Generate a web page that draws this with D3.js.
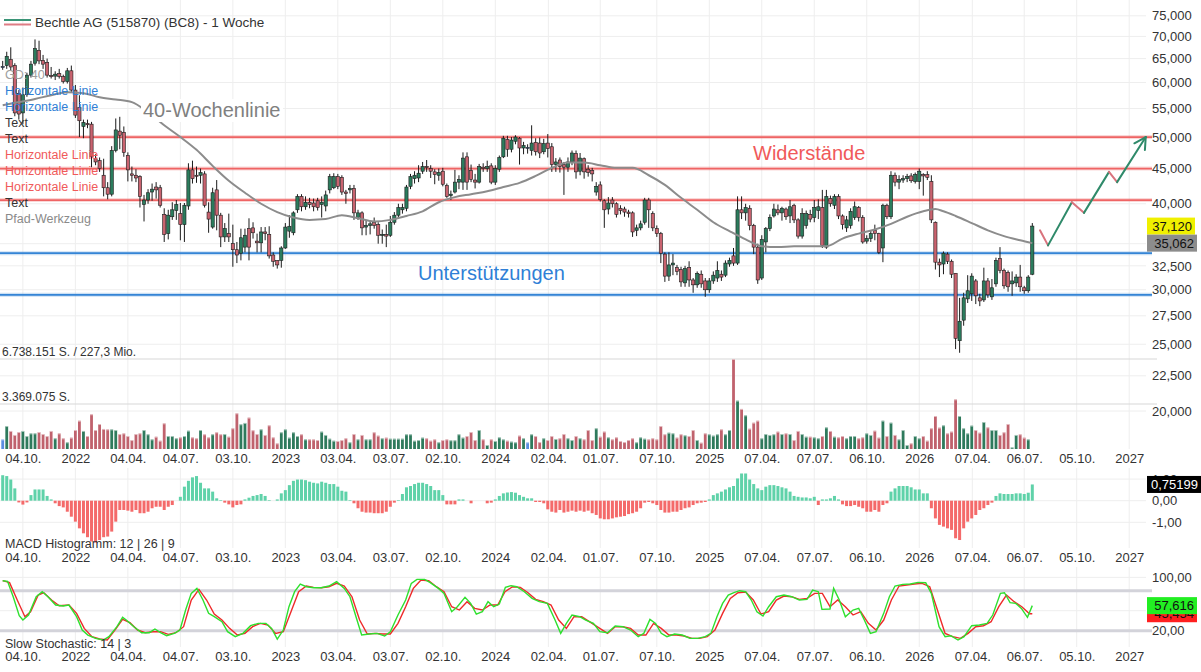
<!DOCTYPE html>
<html>
<head>
<meta charset="utf-8">
<script src="https://cdn.jsdelivr.net/npm/d3@7"></script>
<style>
body { margin: 0; background: #fff; }
svg { display: block; font-family: "Liberation Sans", Arial, sans-serif; }
</style>
</head>
<body>
<svg id="chart" width="1201" height="672"></svg>
<script>
// ---- data (weekly, first week 30.08.2021) ----
var weekStart = "2021-08-30";
var title = "Bechtle AG (515870) (BC8) - 1 Woche";

// [open, high, low, close]
var candles = [
[63.3,64.5,62.6,63.3],[63.5,66.5,62.8,65.5],[64.8,67.5,62.4,63.2],[63.5,64.0,53.6,54.2],[57.8,58.5,53.0,54.0],[54.2,59.0,52.2,57.6],[57.6,62.0,57.2,61.5],[61.5,64.5,61.0,63.8],[64.0,69.3,63.5,67.2],[66.8,69.0,63.8,64.5],
[64.6,65.8,62.8,63.8],[64.2,65.0,61.0,61.5],[61.4,63.2,60.8,61.2],[61.3,62.3,60.5,61.7],[61.8,62.8,60.8,61.2],[61.2,61.6,59.8,60.2],[60.2,63.0,59.8,62.4],[62.4,63.5,58.0,58.5],[58.5,59.5,53.3,53.8],[55.2,57.5,50.0,52.8],
[51.8,53.0,49.8,52.5],[52.3,53.0,51.5,52.1],[52.2,52.6,45.2,46.8],[46.5,47.2,45.5,46.0],[46.2,46.7,44.5,45.0],[44.0,46.5,41.0,42.2],[42.2,43.0,40.6,41.3],[41.3,48.5,41.0,47.8],[47.8,53.2,47.5,51.2],[51.0,53.5,48.0,50.3],
[50.8,51.8,46.8,47.5],[47.0,47.5,43.1,44.8],[44.2,45.3,43.1,44.0],[44.0,44.9,43.0,43.6],[43.8,44.0,39.5,41.0],[39.9,41.2,37.7,40.5],[40.5,42.0,40.0,41.5],[41.6,42.8,40.4,42.0],[42.3,43.0,40.7,41.9],[42.2,42.6,39.5,39.8],
[38.6,39.4,35.2,36.1],[36.2,39.2,35.5,38.5],[38.3,40.2,37.9,39.2],[39.1,40.5,37.9,39.9],[38.7,40.1,35.4,37.3],[37.3,40.1,35.2,39.8],[39.7,45.8,39.2,44.8],[44.8,46.2,42.8,43.5],[44.0,45.3,42.9,43.9],[44.0,45.0,42.8,44.4],
[44.2,44.6,39.5,39.8],[38.9,40.2,36.3,38.0],[37.0,42.2,36.8,41.5],[41.9,43.3,36.6,38.5],[38.5,38.8,34.6,35.8],[35.8,37.5,35.2,36.8],[36.2,38.7,35.2,35.8],[35.0,37.3,32.4,34.3],[34.3,35.2,32.8,33.7],[33.9,36.8,33.1,35.7],
[34.6,36.8,34.0,36.0],[36.8,38.1,33.1,34.6],[36.9,37.6,35.6,36.3],[35.3,36.2,34.0,35.1],[35.1,37.0,34.0,36.4],[36.4,37.0,35.4,36.2],[36.1,37.1,33.3,33.6],[33.7,34.0,32.4,33.0],[33.1,33.1,32.2,32.6],[33.1,34.7,32.3,34.5],
[34.5,37.5,34.4,37.0],[36.5,38.5,35.7,37.1],[36.3,39.0,36.0,38.8],[39.2,41.3,38.8,41.0],[41.0,41.3,39.0,39.6],[39.6,41.0,39.2,40.2],[40.2,40.8,39.4,39.9],[40.1,40.7,39.0,39.6],[40.4,40.8,39.1,39.5],[39.9,41.0,38.2,40.2],
[39.7,41.8,39.0,41.2],[41.9,44.2,41.4,43.8],[42.2,44.3,42.0,43.8],[43.8,44.2,42.0,42.4],[43.7,44.0,41.2,41.6],[41.6,41.9,40.0,41.4],[41.9,42.6,41.4,42.1],[42.1,42.6,37.9,38.8],[38.2,39.2,37.9,38.8],[38.8,39.0,36.0,36.9],
[37.0,37.8,36.0,37.2],[37.2,37.8,36.1,37.4],[37.6,38.2,36.8,37.2],[37.3,37.6,35.0,36.0],[36.0,36.7,35.0,36.1],[36.1,37.3,34.6,35.9],[36.0,38.4,35.8,37.6],[37.6,38.9,37.3,38.5],[38.5,40.0,38.2,39.5],[39.2,40.0,38.7,39.5],
[39.4,42.6,39.0,42.3],[42.4,44.2,42.0,43.8],[43.5,44.6,42.8,44.0],[43.6,45.5,43.0,44.3],[44.6,46.0,44.2,45.3],[45.3,46.3,44.5,45.2],[45.0,45.5,43.6,44.6],[44.5,44.9,42.7,44.1],[44.0,45.0,43.2,44.4],[44.6,45.1,42.4,42.7],
[42.5,42.8,40.8,41.0],[41.1,41.8,40.5,41.3],[41.6,44.8,41.4,43.0],[43.0,44.0,42.0,43.4],[43.0,47.5,41.9,46.6],[46.8,47.5,41.9,43.0],[44.7,45.6,43.0,43.4],[43.3,44.2,42.1,43.0],[43.0,45.7,42.8,45.3],[45.2,45.8,44.5,45.0],
[45.0,46.2,44.5,45.3],[45.4,45.8,42.7,43.0],[43.0,45.5,42.6,45.0],[44.9,47.0,44.5,46.7],[46.8,50.2,46.6,49.8],[49.6,50.2,46.8,48.0],[48.0,50.0,47.5,49.5],[49.3,50.3,48.8,50.0],[49.8,50.0,45.6,48.2],[48.2,49.2,47.2,48.6],
[48.3,48.8,47.3,48.3],[47.8,52.0,47.0,49.0],[49.1,49.8,47.0,47.6],[49.0,49.9,46.6,47.4],[47.6,49.7,47.2,48.9],[49.0,50.5,46.7,48.1],[48.4,49.0,44.5,45.6],[45.6,46.6,44.5,46.0],[46.3,46.7,44.4,45.3],[45.6,46.0,41.2,45.2],
[45.2,46.7,44.5,46.0],[46.0,47.8,45.5,47.4],[47.3,47.8,43.5,44.5],[44.6,47.4,44.0,46.6],[46.5,46.7,43.5,44.5],[44.9,45.5,43.8,44.4],[44.7,45.1,43.1,44.2],[41.6,43.0,41.1,42.4],[42.6,43.1,40.3,40.6],[40.4,40.6,36.9,39.2],
[39.3,40.9,38.6,40.1],[40.5,40.9,39.5,40.0],[40.0,40.2,38.2,38.6],[39.4,39.8,38.6,39.1],[39.3,39.6,38.3,38.9],[38.9,39.2,38.2,38.7],[38.8,39.0,35.8,36.4],[36.6,37.3,35.9,36.9],[36.9,37.8,36.6,37.4],[37.6,40.8,37.3,40.5],
[40.5,40.8,36.9,39.2],[38.7,39.0,36.5,36.9],[36.8,37.2,35.8,36.2],[36.2,36.4,32.8,33.9],[33.8,34.0,30.8,31.4],[31.4,34.0,30.9,32.6],[32.6,33.8,31.5,32.8],[32.3,32.6,31.5,31.9],[32.1,32.4,30.3,30.8],[30.7,32.5,30.3,32.2],
[32.3,33.0,30.3,31.0],[31.0,31.2,29.7,30.5],[30.5,31.9,30.2,31.7],[31.6,32.0,30.2,30.6],[30.9,31.2,29.3,30.0],[30.0,31.2,29.7,30.9],[30.9,31.9,30.6,31.5],[31.2,33.0,30.8,32.0],[31.6,32.0,30.9,31.3],[31.5,33.1,31.3,32.8],
[32.7,33.4,32.4,33.1],[33.6,34.5,32.5,32.8],[32.8,41.0,32.6,39.2],[39.2,41.0,38.0,38.8],[38.8,40.0,37.8,39.5],[39.4,39.8,36.6,37.2],[37.2,37.4,33.8,34.6],[34.6,35.0,30.6,31.0],[31.2,36.0,31.0,35.5],[35.2,37.0,34.0,36.8],
[36.8,38.6,36.5,38.2],[38.4,40.0,38.2,39.3],[39.2,39.9,38.5,38.8],[38.8,39.6,37.8,39.4],[39.3,39.5,37.9,38.3],[38.4,40.5,37.5,39.6],[39.8,40.0,37.5,37.9],[37.9,38.1,35.6,35.9],[35.9,39.4,35.6,38.7],[37.2,39.1,36.8,38.7],
[38.6,39.2,37.6,38.0],[38.2,40.5,37.6,39.5],[39.1,40.6,38.0,39.6],[39.5,41.9,34.5,34.8],[34.6,41.9,34.4,41.0],[40.7,41.1,39.6,40.0],[39.8,41.3,39.3,41.0],[41.0,41.3,38.0,38.4],[38.4,38.6,36.7,37.3],[36.9,38.4,36.4,37.9],
[37.2,39.4,36.8,39.0],[38.2,40.3,37.9,39.6],[39.5,39.7,37.7,38.2],[38.2,38.5,35.0,35.2],[35.3,36.0,35.0,35.6],[35.6,36.6,35.2,36.2],[36.6,37.3,35.4,36.2],[36.2,36.3,33.8,34.0],[34.5,40.0,32.9,39.8],[39.8,40.0,38.0,38.3],
[38.3,44.6,38.0,44.0],[44.0,44.4,42.4,43.0],[43.0,44.0,42.0,43.4],[43.3,44.0,42.9,43.5],[43.5,44.2,43.0,43.8],[43.9,44.3,42.9,43.2],[43.1,44.4,42.8,44.1],[43.1,45.0,42.0,44.6],[44.1,44.3,41.1,43.9],[44.1,44.6,43.3,43.7],
[43.1,44.0,37.5,37.9],[37.6,37.7,32.1,32.9],[32.9,33.3,31.3,32.6],[32.7,34.1,31.6,33.9],[33.8,34.0,32.7,33.0],[33.0,33.2,31.2,31.6],[31.7,31.7,24.6,25.5],[25.3,29.2,24.3,27.0],[27.1,29.7,26.6,29.2],[29.1,31.5,28.7,29.9],
[29.6,31.7,28.9,31.4],[30.9,31.1,28.6,29.4],[29.2,29.6,28.4,28.9],[29.0,32.3,28.8,30.9],[30.9,31.2,29.2,29.5],[29.3,31.1,29.0,30.2],[30.6,33.4,30.3,33.1],[33.3,34.6,31.7,32.0],[32.0,32.2,30.1,30.4],[31.8,32.0,29.8,30.3],
[30.6,31.9,29.4,30.9],[30.7,31.6,30.3,31.3],[31.3,32.6,29.8,30.3],[30.2,30.4,29.6,29.9],[29.9,31.5,29.7,31.3],[31.6,37.5,31.5,37.12]
];

// weekly volume, million shares
var volumes = [
0.72,1.72,1.35,1.05,1.27,1.35,0.97,1.17,1.17,1.27,
1.12,0.97,1.35,0.8,1.17,0.8,0.5,0.85,1.42,2.12,
1.35,0.97,2.6,1.42,1.87,1.5,1.47,1.47,1.42,1.12,
1.17,0.97,0.67,1.12,1.17,1.42,1.1,0.72,0.92,0.62,
1.92,0.97,0.97,0.8,0.87,0.97,1.37,0.87,0.8,1.42,
1.1,0.87,1.1,1.25,1.1,1.12,0.92,1.55,2.67,1.85,
1.95,2.35,1.4,1.12,1.47,1.05,1.77,0.87,0.42,1.25,
1.47,0.85,1.25,0.97,1.1,0.72,0.72,0.72,0.67,1.3,
1.05,0.77,0.62,0.6,0.67,0.8,0.5,1.12,0.72,1.05,
0.72,0.72,1.25,1.0,0.8,0.85,0.77,0.77,0.77,0.77,
1.1,1.1,0.62,0.67,0.85,0.8,0.62,0.72,0.5,0.67,
0.72,0.65,0.65,1.1,0.85,0.97,1.27,0.67,1.42,0.72,
0.3,0.72,0.6,0.87,0.72,0.62,0.55,0.5,1.0,0.8,
0.5,1.1,0.97,0.52,0.8,0.67,0.97,0.75,0.8,1.12,
0.8,0.67,0.97,0.8,0.72,1.42,0.67,1.55,0.92,1.3,
0.87,0.72,0.87,0.6,0.52,0.67,0.8,0.5,0.87,0.77,
0.72,0.8,0.72,1.72,1.1,1.22,1.17,0.85,1.1,1.02,
0.97,1.42,0.67,0.47,1.17,1.1,1.0,1.1,1.47,1.1,
1.42,6.738151,3.62,3.0,2.52,1.52,1.97,2.12,0.8,1.12,
1.05,1.1,1.3,1.12,1.17,1.12,0.67,1.35,1.12,0.92,
0.92,0.87,0.8,0.97,1.62,1.35,0.92,0.87,0.97,0.8,
0.97,0.97,0.8,0.87,1.17,1.05,1.37,0.85,2.12,0.97,
1.97,1.05,0.72,1.42,0.3,0.42,0.97,0.8,0.97,0.62,
1.55,2.47,1.6,1.77,1.17,1.3,3.72,2.47,1.55,1.17,
1.75,1.42,1.22,2.02,1.62,1.42,1.42,1.05,1.25,1.87,
0.12,1.05,1.1,0.85,0.72,0
];
var volMax = 6.738151;
var volTurnover = "227,3 Mio.";

// MACD histogram 12 | 26 | 9
var macd = [
1.18,1.14,0.98,0.57,-0.08,-0.18,-0.08,0.26,0.52,0.52,
0.52,0.22,0.06,-0.12,-0.25,-0.31,-0.51,-0.74,-0.97,-1.28,
-1.51,-1.69,-1.89,-1.94,-1.82,-1.69,-1.66,-1.43,-0.97,-0.43,
-0.43,-0.46,-0.51,-0.43,-0.58,-0.58,-0.51,-0.35,-0.28,-0.28,
-0.43,-0.28,-0.2,0,0.18,0.65,0.92,1.08,1.14,0.83,
0.57,0.57,0.42,0.11,0.03,-0.09,-0.17,-0.31,-0.2,-0.17,
0.06,0.14,0.22,0.26,0.31,0.22,0.03,0,0.06,0.34,
0.49,0.72,0.92,0.98,0.98,0.95,0.88,0.83,0.8,0.88,
0.83,0.77,0.77,0.65,0.46,0.42,0.03,-0.12,-0.35,-0.51,
-0.55,-0.55,-0.58,-0.58,-0.58,-0.51,-0.28,-0.09,0.03,0.31,
0.62,0.68,0.77,0.83,0.83,0.77,0.68,0.49,0.49,0.26,
-0.17,-0.17,-0.17,0.06,0.06,0,-0.12,0,0,0,
-0.12,-0.09,0.06,0.22,0.34,0.38,0.4,0.37,0.26,0.18,
0.11,0.11,-0.06,-0.06,-0.12,-0.4,-0.51,-0.55,-0.43,-0.55,
-0.51,-0.46,-0.51,-0.46,-0.51,-0.46,-0.58,-0.66,-0.82,-0.86,
-0.86,-0.82,-0.77,-0.74,-0.71,-0.62,-0.58,-0.51,-0.35,-0.09,
-0.06,-0.12,-0.2,-0.43,-0.55,-0.55,-0.51,-0.51,-0.43,-0.35,
-0.31,-0.2,-0.12,-0.09,-0.06,0.06,0.26,0.34,0.42,0.52,
0.62,0.68,1.03,1.26,1.26,0.98,0.77,0.57,0.49,0.65,
0.72,0.72,0.68,0.62,0.57,0.42,0.22,0.18,0.15,0.15,
0.11,0.18,-0.2,0.06,0.06,0.11,0.22,0.06,-0.17,-0.25,
-0.25,-0.2,-0.28,-0.35,-0.51,-0.51,-0.43,-0.51,-0.2,-0.12,
0.42,0.57,0.68,0.68,0.68,0.62,0.52,0.52,0.34,0.34,
-0.35,-0.82,-1.12,-1.2,-1.28,-1.35,-1.74,-1.82,-1.28,-0.97,
-0.82,-0.66,-0.43,-0.35,-0.2,-0.09,0.22,0.34,0.31,0.31,
0.31,0.34,0.34,0.31,0.37,0.75199
];

// 40-week moving average: [week, value]
var sma40 = [
[0,55.6],[4,56.2],[8,56.8],[12,57.5],[16,58.1],[20,57.9],[24,57.1],[28,56.7],[32,56.2],[36,54.3],
[40,52.0],[44,50.0],[48,47.9],[52,45.4],[56,43.2],[60,41.5],[64,40.0],[68,38.9],[72,38.2],[76,37.9],
[80,38.0],[84,38.5],[88,38.1],[92,37.7],[96,37.9],[100,38.4],[104,39.0],[108,40.2],[112,40.9],[116,41.3],
[120,41.7],[124,42.3],[128,42.9],[132,43.9],[136,45.1],[140,45.9],[144,45.9],[148,45.5],[152,45.1],[156,45.1],
[160,44.0],[164,42.6],[168,40.8],[172,39.2],[176,37.6],[180,36.5],[184,35.5],[188,34.7],[192,34.6],[196,34.7],
[200,34.7],[204,34.7],[208,35.6],[212,36.2],[216,36.7],[220,37.4],[224,38.3],[228,39.0],[231,39.3],[233,39.0],
[236,38.4],[240,37.5],[244,36.6],[248,35.9],[252,35.4],[255,35.062]
];

// Slow stochastic 14 | 3: [week, value]
var stochK = [
[0,95],[1.2,94],[2.6,71],[4.1,42.5],[5,36],[6.4,43.5],[8.3,71],[9.8,78.5],[11.2,71],[13.1,58.5],[15,57],[16.4,58.5],[18.3,41],[19.7,21],[21.1,13.5],[23,8.5],[24.9,6],[26.3,11],[28.3,26],[29.7,40],
[30.6,36],[32.5,26],[34.4,17],[36.3,17],[37.7,22.5],[39.1,17],[40.6,12.5],[42.5,16],[43.9,21],[45.3,51],[46.7,76],[48.1,83.5],[49.6,66],[51,46],[52.4,41],[54.3,33.5],[55.7,18.5],[57.6,11],[59.5,16],[61.4,27.5],
[63.3,31],[65.2,31],[66.6,23.5],[68,7.5],[69.5,21],[70.9,56],[72.3,78.5],[73.7,90],[75.2,86],[77,84.5],[78.9,84.5],[80.8,87],[82.7,93.5],[84.6,83.5],[86,71],[87.5,41],[88.9,13.5],[90.8,15],[92.7,16],[94.6,12],
[96,18.5],[97.9,43.5],[99.8,66],[101.2,91],[102.6,97],[104.5,97],[105.9,92],[107.9,83.5],[109.3,76],[111.2,48.5],[112.6,56],[114.5,70],[115.9,61],[117.3,45],[118.8,48.5],[120.2,63.5],[121.6,56],[123,60],[124.5,85],[125.9,87.5],
[127.3,86],[129.2,78.5],[131.1,68.5],[132.9,63.5],[134.9,61],[136.8,36],[138.2,16],[139.6,31],[141,43.5],[142.9,41],[144.4,36],[146.3,31],[147.9,18.5],[149.8,17],[151.7,27],[153.6,26],[155.5,21],[157.4,11],[158.8,16],[160.3,37],
[161.7,31],[163.1,16],[164.5,11],[166.4,15],[168.3,13.5],[170.2,8.5],[172.1,8.5],[174,11],[175.4,16],[176.9,41],[178.3,61],[179.7,73.5],[181.1,77],[182.5,80],[184,78.5],[185.4,66],[186.8,48.5],[188.3,42],[189.7,56],[191.6,71],
[193.5,73.5],[195.4,71],[197.3,66],[199.2,67],[200.6,81],[202,78.5],[202.9,52],[204.9,52.5],[205.8,83.5],[207.2,66],[208.7,41],[210.6,51],[212,53.5],[213.4,36],[214.9,16],[216.3,18.5],[218.2,46],[219.6,71],[221,87],[222.9,89.5],
[224.8,90],[226.7,92.5],[228.6,92],[230,76],[231.9,26],[233.4,11],[234.8,12.5],[236.6,6],[238.1,11],[240,27.5],[241.9,28.5],[243.8,31],[245.2,43.5],[247.1,76],[248.1,77],[249.5,62],[250.9,61],[252.3,53.5],[253.8,40],[255,57.616]
];
var stochD = [
[0,95],[1.7,92],[3.6,66],[5.5,41],[6.9,48.5],[8.8,73.5],[10.2,77],[12.1,66],[14,57.5],[16.4,58.5],[18.3,46],[20.2,23.5],[22.1,11],[24,7.5],[25.9,6],[27.8,21],[29.7,37],[31.5,32],[33.4,21],[35.3,17],
[37.2,18.5],[39.1,18.5],[41,14.5],[42.9,17],[44.8,26],[46.7,66],[48.6,82],[50.5,66],[52.4,45],[54.3,36],[56.2,23.5],[58.1,13.5],[60,16],[61.9,26],[63.8,31],[65.7,28.5],[67.6,16],[69.5,18.5],[71.4,48.5],[73.3,78.5],
[75.2,87],[77,85],[78.9,84.5],[80.8,86],[82.7,91],[84.6,87],[86.5,71],[88.4,36],[90.3,15],[92.2,16],[94.1,15],[96,15],[97.9,31],[99.8,56],[101.7,83.5],[103.6,96],[105.5,95],[107.4,86],[109.3,78.5],[111.2,56],
[113.1,51],[115,63.5],[116.9,53.5],[118.8,51],[120.7,58.5],[122.6,58.5],[124.4,78.5],[126.3,86],[128.2,85],[130.1,77],[132,67],[133.9,63.5],[135.8,58.5],[137.7,36],[139.6,23.5],[141.5,41],[143.4,41],[145.3,33.5],[147.2,26],[149.8,16],
[151.7,26],[153.6,26],[155.5,23.5],[157.4,13.5],[159.3,13.5],[161.2,31],[163.1,23.5],[165,13.5],[166.9,13.5],[168.8,12],[170.7,8.5],[172.6,8.5],[174.5,11],[176.4,21],[178.3,46],[180.2,68.5],[182.1,77],[184,78],[185.9,66],[187.8,45],
[189.7,48.5],[191.6,66],[193.5,72],[195.4,71],[197.3,67],[199.2,68.5],[201.1,76],[203,76],[204.9,56],[206.8,66],[208.7,56],[210.6,43.5],[212.5,48.5],[214.4,31],[216.3,21],[218.2,36],[220.1,66],[222,87],[223.9,88.5],[225.8,90],
[227.7,91],[229.6,86],[231.5,51],[233.4,16],[235.3,11],[237.2,8.5],[239.1,16],[241,26],[242.9,27.5],[244.8,33.5],[246.7,56],[248.6,73.5],[250.5,63.5],[252.4,56],[254.3,45.5],[255,45.454]
];

var resistance = [50, 45, 40.5];
var support = [33.9, 29.5];
// drawn path (Pfad-Werkzeug): [week, price]
var pathPts = [[256.9,36.6],[258.9,34.8],[264.8,40.2],[267.8,38.8],[274.0,44.5],[276.0,43.0],[283.1,50.0]];

var priceTicks = [20, 22.5, 25, 27.5, 30, 32.5, 35, 40, 45, 50, 55, 60, 65, 70, 75];
var macdTicks = [1, 0, -1];
var stochTicks = [100, 20];
var tickDates = ["2021-10-04","2022-01-03","2022-04-04","2022-07-04","2022-10-03","2023-01-02","2023-04-03","2023-07-03","2023-10-02","2024-01-01","2024-04-02","2024-07-01","2024-10-07","2025-01-06","2025-04-07","2025-07-07","2025-10-06","2026-01-05","2026-04-07","2026-07-06","2026-10-05","2027-01-04"];
var tickLabels = ["04.10.","2022","04.04.","04.07.","03.10.","2023","03.04.","03.07.","02.10.","2024","02.04.","01.07.","07.10.","2025","07.04.","07.07.","06.10.","2026","07.04.","06.07.","05.10.","2027"];

var toolLabels = [
  ["GD: 40", "#a0a0a0"], ["Horizontale Linie", "#2f7fd6"], ["Horizontale Linie", "#2f7fd6"],
  ["Text", "#333"], ["Text", "#333"], ["Horizontale Linie", "#f05a5a"], ["Horizontale Linie", "#f05a5a"],
  ["Horizontale Linie", "#f05a5a"], ["Text", "#333"], ["Pfad-Werkzeug", "#8a8a8a"]
];

// ---- setup ----
var svg = d3.select("#chart");
var FONT = '"Liberation Sans", Arial, sans-serif';
var de = d3.formatLocale({decimal: ",", thousands: ".", grouping: [3], currency: ["", " €"], minus: "-"});

function weekIdx(s) { return (Date.parse(s) - Date.parse(weekStart)) / 6048e5; }
var tickIdx = tickDates.map(weekIdx);

var x = d3.scaleLinear().domain([0, candles.length - 1]).range([2.7, 1032.3]);
var y = d3.scaleLog().domain([20, 75]).range([411, 15.8]);
var yv = d3.scaleLinear().domain([0, volMax]).range([449, 359]);
var ym = d3.scaleLinear().domain([-1, 1]).range([522.3, 479.1]);
var ys = d3.scaleLinear().domain([20, 80]).range([630.7, 590.7]);

function dir(d) { return d[3] > d[0] ? "up" : (d[3] < d[0] ? "down" : "flat"); }
var candleCol = {up: "#2b7c5d", down: "#c9636f", flat: "#5b8de0"};
var volCol = {up: "#2e7a5c", down: "#c0626d", flat: "#5b8de0"};

// ---- grid ----
var grid = svg.append("g").attr("stroke", "#eeeeee").attr("stroke-width", 1);
grid.selectAll(".hg").data(priceTicks).join("line")
  .attr("x1", 0).attr("x2", 1146).attr("y1", d => y(d)).attr("y2", d => y(d));
[[0, 449], [468, 548], [567, 647]].forEach(function(r) {
  grid.append("g").selectAll("line").data(tickIdx).join("line")
    .attr("x1", d => x(d)).attr("x2", d => x(d)).attr("y1", r[0]).attr("y2", r[1]);
});
grid.selectAll(".mg").data(macdTicks).join("line")
  .attr("x1", 0).attr("x2", 1146).attr("y1", d => ym(d)).attr("y2", d => ym(d));
grid.selectAll(".sg").data([100, 50]).join("line")
  .attr("x1", 0).attr("x2", 1146).attr("y1", d => ys(d)).attr("y2", d => ys(d));

// volume scale lines
svg.append("g").selectAll("line").data([volMax, volMax / 2]).join("line")
  .attr("x1", 0).attr("x2", 1157).attr("y1", d => yv(d)).attr("y2", d => yv(d))
  .attr("stroke", "#d8d8d8").attr("stroke-width", 1.2);
svg.append("text").attr("x", 2).attr("y", 356).attr("font-size", 12).attr("fill", "#333")
  .text(de.format(",.0f")(volMax * 1e6) + " S. / " + volTurnover);
svg.append("text").attr("x", 2).attr("y", 401).attr("font-size", 12).attr("fill", "#333")
  .text(de.format(",.0f")(Math.floor(volMax * 1e6 / 2)) + " S.");

// ---- volume bars ----
var vb = svg.append("g");
vb.selectAll("rect").data(volumes).join("rect")
  .attr("x", (d, i) => x(i) - 1.4).attr("width", 2.8)
  .attr("y", d => yv(d)).attr("height", d => yv(0) - yv(d))
  .attr("fill", (d, i) => volCol[dir(candles[i])]);
vb.selectAll(".cap").data(volumes).join("rect").attr("class", "cap")
  .attr("x", (d, i) => x(i) - 1.4).attr("width", 2.8)
  .attr("y", d => yv(d)).attr("height", d => d > 0.05 ? 1 : 0)
  .attr("fill", "#fff").attr("opacity", 0.55);

// ---- horizontal lines ----
function hline(v, col) {
  svg.append("line").attr("x1", 0).attr("x2", 1152).attr("y1", y(v)).attr("y2", y(v))
    .attr("stroke", col).attr("stroke-width", 4).attr("opacity", 0.25);
  svg.append("line").attr("x1", 0).attr("x2", 1152).attr("y1", y(v)).attr("y2", y(v))
    .attr("stroke", col).attr("stroke-width", 1.8);
}
resistance.forEach(v => hline(v, "#ef6464"));
support.forEach(v => hline(v, "#3585d6"));

// ---- candles ----
var cg = svg.append("g");
cg.selectAll("line").data(candles).join("line")
  .attr("x1", (d, i) => x(i)).attr("x2", (d, i) => x(i))
  .attr("y1", d => y(d[1])).attr("y2", d => y(d[2]))
  .attr("stroke", "#1b1b1b").attr("stroke-width", 1);
cg.selectAll("rect").data(candles).join("rect")
  .attr("x", (d, i) => x(i) - 1.6).attr("width", 3.2)
  .attr("y", d => y(Math.max(d[0], d[3])))
  .attr("height", d => Math.max(1, Math.abs(y(d[0]) - y(d[3]))))
  .attr("fill", d => candleCol[dir(d)])
  .attr("stroke", "#1b1b1b").attr("stroke-width", 0.6);

// ---- 40-week line ----
svg.append("path").datum(sma40)
  .attr("d", d3.line().x(d => x(d[0])).y(d => y(d[1])).curve(d3.curveMonotoneX))
  .attr("fill", "none").attr("stroke", "#8c8c8c").attr("stroke-width", 2);

// ---- drawn path with arrow ----
var pg = svg.append("g").attr("stroke-width", 2).attr("fill", "none").attr("stroke-linecap", "round");
d3.pairs(pathPts).forEach(function(p) {
  pg.append("line")
    .attr("x1", x(p[0][0])).attr("y1", y(p[0][1])).attr("x2", x(p[1][0])).attr("y2", y(p[1][1]))
    .attr("stroke", p[1][1] > p[0][1] ? "#2f8a6a" : "#d9737d");
});
(function() {
  var a = pathPts[pathPts.length - 2], b = pathPts[pathPts.length - 1];
  var x0 = x(a[0]), y0 = y(a[1]), x1 = x(b[0]), y1 = y(b[1]);
  var ang = Math.atan2(y1 - y0, x1 - x0), L = 13;
  [-0.5, 0.5].forEach(function(o) {
    pg.append("line").attr("x1", x1).attr("y1", y1)
      .attr("x2", x1 - L * Math.cos(ang + o)).attr("y2", y1 - L * Math.sin(ang + o))
      .attr("stroke", "#2f8a6a");
  });
})();

// ---- MACD ----
svg.append("g").selectAll("rect").data(macd).join("rect")
  .attr("x", (d, i) => x(i) - 1.5).attr("width", 3)
  .attr("y", d => Math.min(ym(0), ym(d))).attr("height", d => Math.abs(ym(d) - ym(0)))
  .attr("fill", d => d >= 0 ? "#5fd2a9" : "#f46a6a");

// ---- Stochastic ----
svg.append("g").selectAll("line").data([80, 20]).join("line")
  .attr("x1", 0).attr("x2", 1152).attr("y1", d => ys(d)).attr("y2", d => ys(d))
  .attr("stroke", "#d3d3da").attr("stroke-width", 3);
var sline = d3.line().x(d => x(d[0])).y(d => ys(d[1]));
svg.append("path").datum(stochD).attr("d", sline).attr("fill", "none")
  .attr("stroke", "#ee2a2a").attr("stroke-width", 1.4);
svg.append("path").datum(stochK).attr("d", sline).attr("fill", "none")
  .attr("stroke", "#2ee02e").attr("stroke-width", 1.4);

// ---- axes ----
function styleAxis(g) {
  g.select(".domain").remove();
  g.attr("font-family", FONT).attr("font-size", 13);
  g.selectAll("text").attr("fill", "#333");
}
svg.append("g").attr("transform", "translate(1146,0)")
  .call(d3.axisRight(y).tickValues(priceTicks).tickFormat(de.format(".3f")).tickSize(0).tickPadding(6))
  .call(styleAxis);
svg.append("g").attr("transform", "translate(1146,0)")
  .call(d3.axisRight(ym).tickValues(macdTicks).tickFormat(de.format(".2f")).tickSize(0).tickPadding(6))
  .call(styleAxis);
svg.append("g").attr("transform", "translate(1146,0)")
  .call(d3.axisRight(ys).tickValues(stochTicks).tickFormat(de.format(".2f")).tickSize(0).tickPadding(6))
  .call(styleAxis);
[451, 550, 649].forEach(function(ty) {
  svg.append("g").attr("transform", "translate(0," + ty + ")")
    .call(d3.axisBottom(x).tickValues(tickIdx).tickFormat((d, k) => tickLabels[k]).tickSize(0).tickPadding(3))
    .call(styleAxis);
});

// ---- value tags ----
function tag(yy, txt, bg, fg, w) {
  var g = svg.append("g");
  g.append("rect").attr("x", 1147).attr("y", yy - 8.5).attr("width", w).attr("height", 17).attr("fill", bg);
  g.append("text").attr("x", 1147 + w - 3).attr("y", yy + 4.6).attr("text-anchor", "end")
    .attr("font-size", 13).attr("fill", fg).text(txt);
}
var lastC = candles[candles.length - 1][3];
var lastS = sma40[sma40.length - 1][1];
tag(y(lastC), de.format(".3f")(lastC), "#f0f000", "#111", 48);
tag(y(lastS), de.format(".3f")(lastS), "#8c8c8c", "#111", 50);
tag(ym(macd[macd.length - 1]), de.format(".5f")(macd[macd.length - 1]), "#000", "#fff", 54);
tag(ys(stochD[stochD.length - 1][1]), de.format(".3f")(stochD[stochD.length - 1][1]), "#ff1f1f", "#111", 50);
tag(ys(stochK[stochK.length - 1][1]), de.format(".3f")(stochK[stochK.length - 1][1]), "#22ee22", "#111", 50);

// ---- annotations ----
svg.append("rect").attr("x", 141).attr("y", 99).attr("width", 142).attr("height", 23).attr("fill", "#fff");
svg.append("text").attr("x", 143).attr("y", 117).attr("font-size", 20).attr("fill", "#808080").text("40-Wochenlinie");
svg.append("text").attr("x", 753).attr("y", 160).attr("font-size", 20).attr("fill", "#f05a5a").text("Widerstände");
svg.append("text").attr("x", 418).attr("y", 280).attr("font-size", 20).attr("fill", "#2f7fd6").text("Unterstützungen");

svg.append("g").selectAll("text").data(toolLabels).join("text")
  .attr("x", 5).attr("y", (d, i) => 78.5 + i * 16).attr("font-size", 12.5)
  .attr("fill", d => d[1]).text(d => d[0]);

svg.append("text").attr("x", 5).attr("y", 548).attr("font-size", 12.5).attr("fill", "#333")
  .text("MACD Histogramm: 12 | 26 | 9");
svg.append("text").attr("x", 5).attr("y", 648).attr("font-size", 12.5).attr("fill", "#333")
  .text("Slow Stochastic: 14 | 3");

// title + legend icon
svg.append("line").attr("x1", 4).attr("x2", 31).attr("y1", 20).attr("y2", 20).attr("stroke", "#3a9476").attr("stroke-width", 2);
svg.append("line").attr("x1", 4).attr("x2", 31).attr("y1", 24.5).attr("y2", 24.5).attr("stroke", "#de7c84").attr("stroke-width", 2);
svg.append("text").attr("x", 35).attr("y", 27).attr("font-size", 13.5).attr("fill", "#333").text(title);
</script>
</body>
</html>
